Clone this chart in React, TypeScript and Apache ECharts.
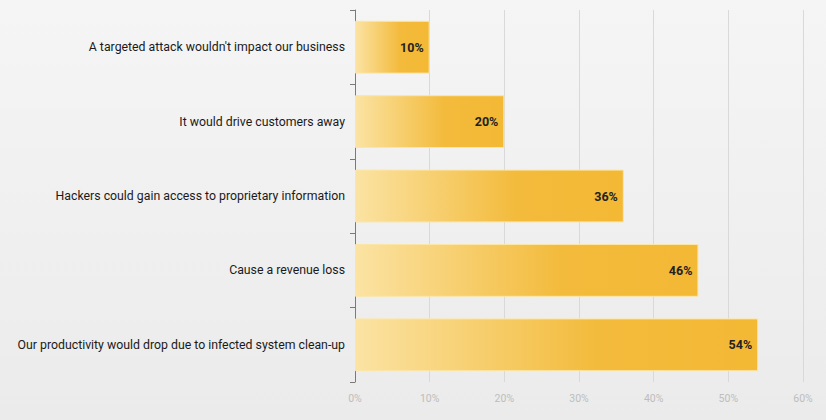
import React, { useEffect, useRef } from "react";
import * as echarts from "echarts";

const categories = [
  "A targeted attack wouldn't impact our business",
  "It would drive customers away",
  "Hackers could gain access to proprietary information",
  "Cause a revenue loss",
  "Our productivity would drop due to infected system clean-up",
];
const values = [10, 20, 36, 46, 54];
const xTicks = [0, 10, 20, 30, 40, 50, 60];

export default function App() {
  const ref = useRef<HTMLDivElement>(null);
  useEffect(() => {
    const chart = echarts.init(ref.current!, null, { renderer: "svg" });
    chart.setOption({
      animation: false,
      backgroundColor: "transparent",
      textStyle: { fontFamily: "Roboto" },
      grid: { left: 355, right: 23, top: 10, bottom: 38, containLabel: false },
      xAxis: {
        type: "value",
        min: xTicks[0],
        max: xTicks[xTicks.length - 1],
        interval: 10,
        axisLine: { show: false },
        axisTick: { show: false },
        splitLine: { show: true, lineStyle: { color: "#d9d9d9", width: 1 } },
        axisLabel: {
          formatter: (v: number) => v + "%",
          color: "#bdbdbd",
          fontSize: 10.5,
          margin: 11,
          fontFamily: "Roboto",
        },
      },
      yAxis: {
        type: "category",
        data: categories,
        inverse: true,
        axisLine: { show: true, lineStyle: { color: "#7a7a7a", width: 1 } },
        axisTick: { show: true, length: 5, lineStyle: { color: "#7a7a7a" } },
        axisLabel: { color: "#1a1a1a", fontSize: 12.3, margin: 10, fontFamily: "Roboto" },
      },
      series: [
        {
          type: "bar",
          data: values,
          barCategoryGap: "29%",
          itemStyle: {
            color: new echarts.graphic.LinearGradient(0, 0, 1, 0, [
              { offset: 0, color: "#fbe3a3" },
              { offset: 0.6, color: "#f3bb3c" },
              { offset: 1, color: "#f3b935" },
            ]),
            borderColor: "#fbe6a8",
            borderWidth: 1,
          },
          label: {
            show: true,
            position: "insideRight",
            distance: 6,
            formatter: (p: any) => p.value + "%",
            color: "#222",
            fontWeight: "bold",
            fontSize: 12.5,
            fontFamily: "Roboto",
          },
        },
      ],
    });
    return () => chart.dispose();
  }, []);
  return (
    <div
      ref={ref}
      style={{
        position: "fixed",
        left: 0,
        top: 0,
        width: 826,
        height: 420,
        background: "linear-gradient(to bottom, #f5f5f5, #ebebeb)",
      }}
    />
  );
}
